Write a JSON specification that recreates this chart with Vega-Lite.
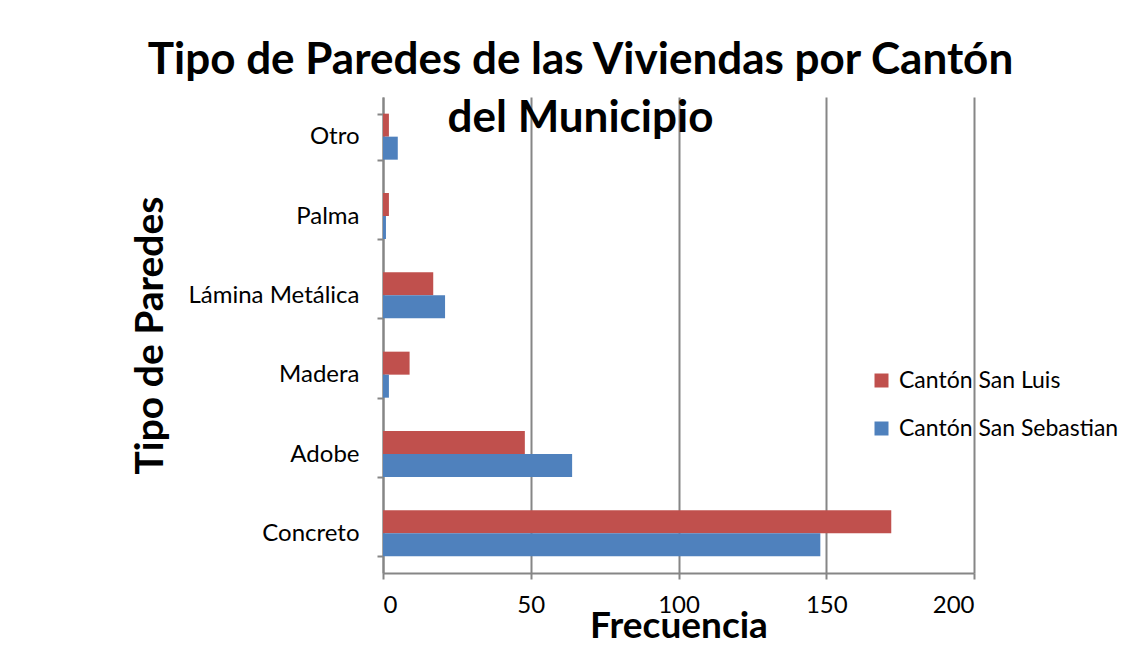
{
  "$schema": "https://vega.github.io/schema/vega-lite/v6.json",
  "width": 591,
  "height": 476,
  "autosize": {"type": "none"},
  "padding": {"left": 383, "top": 97, "right": 174, "bottom": 78},
  "background": "white",
  "title": {
    "text": ["Tipo de Paredes de las Viviendas por Cantón", "del Municipio"],
    "font": "Lato",
    "fontSize": 44,
    "fontWeight": "bold",
    "color": "black",
    "anchor": "middle",
    "dx": -98,
    "lineHeight": 58,
    "offset": -56
  },
  "data": {
    "values": [
      {"tipo": "Concreto", "canton": "Cantón San Luis", "frecuencia": 172},
      {"tipo": "Concreto", "canton": "Cantón San Sebastian", "frecuencia": 148},
      {"tipo": "Adobe", "canton": "Cantón San Luis", "frecuencia": 48},
      {"tipo": "Adobe", "canton": "Cantón San Sebastian", "frecuencia": 64},
      {"tipo": "Madera", "canton": "Cantón San Luis", "frecuencia": 9},
      {"tipo": "Madera", "canton": "Cantón San Sebastian", "frecuencia": 2},
      {"tipo": "Lámina Metálica", "canton": "Cantón San Luis", "frecuencia": 17},
      {"tipo": "Lámina Metálica", "canton": "Cantón San Sebastian", "frecuencia": 21},
      {"tipo": "Palma", "canton": "Cantón San Luis", "frecuencia": 2},
      {"tipo": "Palma", "canton": "Cantón San Sebastian", "frecuencia": 1},
      {"tipo": "Otro", "canton": "Cantón San Luis", "frecuencia": 2},
      {"tipo": "Otro", "canton": "Cantón San Sebastian", "frecuencia": 5}
    ]
  },
  "mark": {"type": "bar", "strokeWidth": 0},
  "encoding": {
    "y": {
      "field": "tipo",
      "type": "nominal",
      "scale": {
        "domain": ["Otro", "Palma", "Lámina Metálica", "Madera", "Adobe", "Concreto"],
        "paddingInner": 0.42,
        "paddingOuter": 0.21
      },
      "axis": {
        "title": "Tipo de Paredes",
        "titleFont": "Lato",
        "titleFontSize": 39,
        "titleFontWeight": "bold",
        "titleColor": "black",
        "titleX": -233,
        "titleBaseline": "middle",
        "labelFont": "Lato",
        "labelFontSize": 24,
        "labelColor": "black",
        "labelPadding": 18,
        "tickBand": "extent",
        "tickSize": 6,
        "tickColor": "#868686",
        "tickWidth": 2,
        "domainColor": "#868686",
        "domainWidth": 2,
        "grid": false
      }
    },
    "yOffset": {
      "field": "canton",
      "type": "nominal",
      "scale": {"domain": ["Cantón San Luis", "Cantón San Sebastian"]}
    },
    "x": {
      "field": "frecuencia",
      "type": "quantitative",
      "scale": {"domain": [0, 200], "nice": false},
      "axis": {
        "values": [0, 50, 100, 150, 200],
        "title": "Frecuencia",
        "titleFont": "Lato",
        "titleFontSize": 37,
        "titleFontWeight": "bold",
        "titleColor": "black",
        "titleY": 64,
        "titleBaseline": "alphabetic",
        "labelFont": "Lato",
        "labelFontSize": 24,
        "labelColor": "black",
        "labelPadding": 14,
        "tickSize": 6,
        "tickColor": "#868686",
        "tickWidth": 2,
        "domainColor": "#868686",
        "domainWidth": 2,
        "grid": true,
        "gridColor": "#868686",
        "gridWidth": 2
      }
    },
    "color": {
      "field": "canton",
      "type": "nominal",
      "scale": {
        "domain": ["Cantón San Luis", "Cantón San Sebastian"],
        "range": ["#C0504D", "#4F81BD"]
      },
      "legend": {
        "title": null,
        "orient": "none",
        "legendX": 487,
        "legendY": 272,
        "symbolType": "square",
        "symbolSize": 196,
        "symbolStrokeWidth": 0,
        "labelFont": "Lato",
        "labelFontSize": 23,
        "labelColor": "black",
        "labelLimit": 400,
        "rowPadding": 24,
        "labelOffset": 6
      }
    }
  },
  "config": {
    "view": {"stroke": null}
  }
}
